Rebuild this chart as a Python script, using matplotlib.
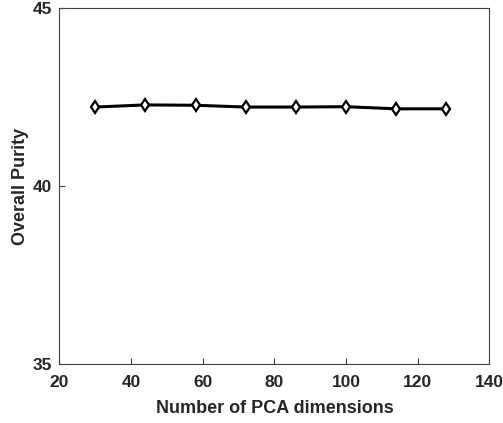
import matplotlib
matplotlib.use('Agg')
import matplotlib.pyplot as plt

# PCA dimensions vs purity
dims = [30, 44, 58, 72, 86, 100, 114, 128]
purity = [42.22, 42.28, 42.27, 42.22, 42.22, 42.23, 42.17, 42.17]

plt.rcParams['font.family'] = ['Liberation Sans', 'DejaVu Sans']
plt.rcParams['font.weight'] = 'bold'

fig = plt.figure(figsize=(5.03, 4.23), dpi=100)
ax = fig.add_axes([0.118, 0.139, 0.855, 0.842])

ax.plot(dims, purity, color='black', linewidth=2.2, marker='d',
        markersize=6.5, markerfacecolor='white', markeredgecolor='black',
        markeredgewidth=1.6)

ax.set_xlim(20, 140)
ax.set_ylim(35, 45)
ax.set_xticks([20, 40, 60, 80, 100, 120, 140])
ax.set_yticks([35, 40, 45])

txt = '#262626'
ax.tick_params(direction='in', length=4, width=0.8, colors='#404040',
               labelcolor=txt, labelsize=12.5)
ax.tick_params(axis='x', pad=8)
ax.tick_params(axis='y', pad=5)
for s in ax.spines.values():
    s.set_color('#404040')
    s.set_linewidth(0.8)

ax.set_xlabel('Number of PCA dimensions', fontsize=13, fontweight='bold', color=txt)
ax.set_ylabel('Overall Purity', fontsize=13, fontweight='bold', color=txt)
ax.xaxis.set_label_coords(0.5, -0.1)
ax.yaxis.set_label_coords(-0.07, 0.5)

fig.savefig('out.png', dpi=100)
